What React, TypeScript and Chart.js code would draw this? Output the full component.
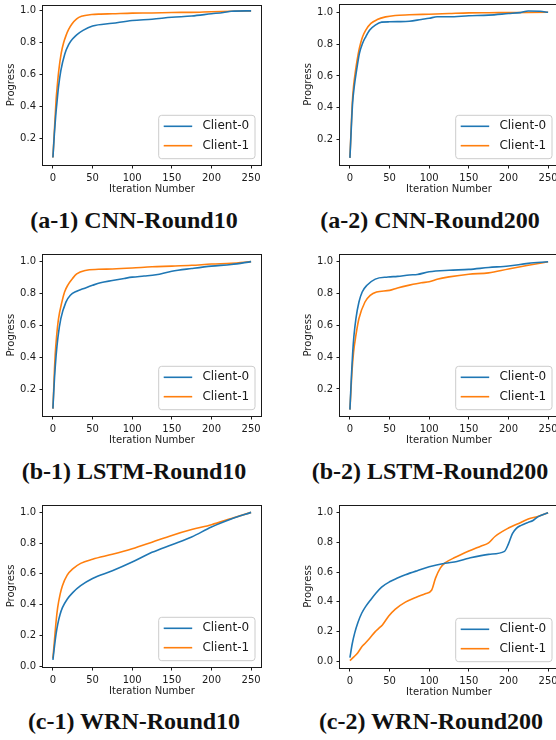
import React, { useEffect, useRef } from "react";
import { Chart, registerables } from "chart.js";

Chart.register(...registerables);

// ---------- data ----------
const CLIENTS = ["Client-0", "Client-1"];
const COLORS = ["#1f77b4", "#ff7f0e"];
const X_AXIS_LABEL = "Iteration Number";
const Y_AXIS_LABEL = "Progress";
const TITLES = [
  "(a-1) CNN-Round10",
  "(a-2) CNN-Round200",
  "(b-1) LSTM-Round10",
  "(b-2) LSTM-Round200",
  "(c-1) WRN-Round10",
  "(c-2) WRN-Round200",
];

// (a-1) CNN-Round10
const A1_C0_ITER = [0, 1, 2, 3.5, 5, 7, 10, 15, 20, 25, 30, 38, 50, 75, 100, 125, 150, 175, 200, 215, 225, 250];
const A1_C0_PROG = [0.08, 0.16, 0.24, 0.34, 0.42, 0.52, 0.625, 0.73, 0.79, 0.825, 0.85, 0.878, 0.905, 0.922, 0.94, 0.948, 0.96, 0.968, 0.982, 0.99, 0.998, 1.0];
const A1_C1_ITER = [0, 1, 2, 4, 5.5, 7.5, 10.5, 13.5, 16.5, 20, 24, 30, 36, 49, 60, 75, 100, 125, 150, 175, 200, 225, 250];
const A1_C1_PROG = [0.08, 0.17, 0.26, 0.44, 0.53, 0.63, 0.735, 0.8, 0.845, 0.885, 0.918, 0.95, 0.966, 0.977, 0.98, 0.982, 0.986, 0.987, 0.99, 0.991, 0.995, 0.998, 1.0];

// (a-2) CNN-Round200
const A2_C0_ITER = [0, 1, 2, 3.4, 5.5, 8.5, 12, 16, 20, 25, 32, 40, 50, 60, 75, 90, 100, 110, 125, 150, 175, 200, 215, 225, 240, 250];
const A2_C0_PROG = [0.085, 0.19, 0.3, 0.43, 0.534, 0.638, 0.742, 0.805, 0.846, 0.888, 0.919, 0.938, 0.94, 0.941, 0.944, 0.955, 0.962, 0.972, 0.972, 0.978, 0.982, 0.992, 0.998, 1.008, 1.006, 1.0];
const A2_C1_ITER = [0, 1, 2, 3, 4.6, 7.2, 10.6, 13.5, 16, 20, 26.5, 34.5, 45, 57, 75, 100, 125, 150, 175, 200, 225, 250];
const A2_C1_PROG = [0.085, 0.2, 0.32, 0.43, 0.534, 0.638, 0.742, 0.805, 0.846, 0.888, 0.93, 0.954, 0.971, 0.98, 0.984, 0.988, 0.992, 0.996, 0.997, 0.998, 0.999, 1.0];

// (b-1) LSTM-Round10
const B1_C0_ITER = [0, 1, 2, 4, 6.3, 10, 16.4, 22, 30, 38, 50, 60, 75, 90, 100, 115, 130, 150, 175, 200, 225, 250];
const B1_C0_PROG = [0.08, 0.18, 0.27, 0.41, 0.525, 0.643, 0.747, 0.79, 0.815, 0.83, 0.852, 0.868, 0.882, 0.895, 0.903, 0.91, 0.918, 0.94, 0.957, 0.972, 0.982, 1.0];
const B1_C1_ITER = [0, 1, 2, 2.9, 4.6, 7.1, 11.3, 14.7, 19, 24.8, 30, 40.8, 57.5, 75, 100, 125, 150, 175, 200, 225, 250];
const B1_C1_PROG = [0.08, 0.2, 0.33, 0.42, 0.53, 0.643, 0.747, 0.81, 0.855, 0.895, 0.923, 0.945, 0.952, 0.954, 0.96, 0.968, 0.972, 0.977, 0.985, 0.99, 1.0];

// (b-2) LSTM-Round200
const B2_C0_ITER = [0, 1, 2, 3.4, 5, 7.6, 11.4, 15.5, 21.5, 32, 48, 60, 75, 85, 100, 125, 150, 175, 200, 225, 250];
const B2_C0_PROG = [0.07, 0.18, 0.29, 0.42, 0.53, 0.643, 0.747, 0.81, 0.852, 0.891, 0.904, 0.908, 0.917, 0.92, 0.937, 0.947, 0.952, 0.964, 0.973, 0.99, 1.0];
const B2_C1_ITER = [0, 1, 2.5, 4.6, 7.6, 11.4, 19, 25.6, 33.6, 50, 60, 75, 90, 100, 110, 125, 150, 175, 200, 225, 250];
const B2_C1_PROG = [0.07, 0.16, 0.3, 0.43, 0.538, 0.643, 0.747, 0.789, 0.81, 0.82, 0.835, 0.853, 0.868, 0.874, 0.89, 0.905, 0.922, 0.93, 0.955, 0.978, 1.0];

// (c-1) WRN-Round10
const C1_C0_ITER = [0, 2, 4, 6, 9, 12, 18, 25, 35, 50, 75, 100, 125, 150, 175, 200, 225, 250];
const C1_C0_PROG = [0.04, 0.13, 0.21, 0.27, 0.335, 0.38, 0.435, 0.478, 0.523, 0.57, 0.62, 0.677, 0.74, 0.79, 0.84, 0.905, 0.957, 1.0];
const C1_C1_ITER = [0, 2, 4, 6, 9, 12, 18, 25, 35, 50, 75, 100, 125, 150, 175, 200, 225, 250];
const C1_C1_PROG = [0.05, 0.17, 0.29, 0.38, 0.465, 0.523, 0.592, 0.632, 0.668, 0.695, 0.727, 0.763, 0.806, 0.85, 0.888, 0.92, 0.96, 1.0];

// (c-2) WRN-Round200
const C2_C0_ITER = [0, 3, 6, 10, 15, 20, 27, 33, 40, 50, 60, 70, 85, 100, 120, 135, 150, 175, 195, 200, 205, 210, 216, 225, 231, 237, 250];
const C2_C0_PROG = [0.025, 0.12, 0.19, 0.26, 0.325, 0.37, 0.42, 0.46, 0.5, 0.535, 0.56, 0.582, 0.61, 0.636, 0.66, 0.672, 0.694, 0.72, 0.74, 0.79, 0.86, 0.895, 0.915, 0.935, 0.948, 0.972, 1.0];
const C2_C1_ITER = [0, 5, 10, 15, 19, 25, 32, 36, 41, 49, 57, 70, 83, 95, 103, 108, 114, 120, 133, 150, 165, 175, 183, 200, 212, 225, 237, 250];
const C2_C1_PROG = [0.005, 0.03, 0.058, 0.098, 0.12, 0.155, 0.2, 0.22, 0.245, 0.305, 0.35, 0.398, 0.43, 0.455, 0.478, 0.56, 0.627, 0.662, 0.7, 0.742, 0.775, 0.797, 0.84, 0.897, 0.926, 0.957, 0.975, 1.0];

// y-axis view limits per panel
const Y_MIN = [0.033, 0.04, 0.034, 0.03, -0.006, -0.045];
const Y_MAX = [1.037, 1.052, 1.046, 1.047, 1.048, 1.052];
const X_MIN = -12.5;
const X_MAX = 262.5;

const SERIES = [
  [[A1_C0_ITER, A1_C0_PROG], [A1_C1_ITER, A1_C1_PROG]],
  [[A2_C0_ITER, A2_C0_PROG], [A2_C1_ITER, A2_C1_PROG]],
  [[B1_C0_ITER, B1_C0_PROG], [B1_C1_ITER, B1_C1_PROG]],
  [[B2_C0_ITER, B2_C0_PROG], [B2_C1_ITER, B2_C1_PROG]],
  [[C1_C0_ITER, C1_C0_PROG], [C1_C1_ITER, C1_C1_PROG]],
  [[C2_C0_ITER, C2_C0_PROG], [C2_C1_ITER, C2_C1_PROG]],
];

// ---------- layout ----------
const CANVAS_W = 278;
const Y_AXIS_W = 43;
const AX_RIGHT = 261;
const X_AXIS_H = 35;
const LAYOUT = [
  { left: 0, top: 0, axTop: 5, axBottom: 165, cx: 134, cy: 220 },
  { left: 297, top: 0, axTop: 4, axBottom: 165, cx: 430, cy: 220 },
  { left: 0, top: 250, axTop: 4.3, axBottom: 166, cx: 134, cy: 470.5 },
  { left: 297, top: 250, axTop: 4.3, axBottom: 166, cx: 430, cy: 470.5 },
  { left: 0, top: 500, axTop: 5, axBottom: 167, cx: 134, cy: 720.5 },
  { left: 297, top: 500, axTop: 5, axBottom: 168, cx: 431, cy: 720.5 },
];

const FONT = "DejaVu Sans";
const INK = "#1a1a1a";

const framePlugin = {
  id: "mplFrame",
  afterDatasetsDraw(chart: any) {
    const { ctx, chartArea: a } = chart;
    ctx.save();
    ctx.strokeStyle = INK;
    ctx.lineWidth = 1;
    const l = Math.round(a.left) - 0.5;
    const t = Math.round(a.top) + 0.5;
    const r = Math.round(a.right) + 0.5;
    const b = Math.round(a.bottom) + 0.5;
    ctx.strokeRect(l, t, r - l, b - t);
    ctx.restore();
  },
};

const legendPlugin = {
  id: "mplLegend",
  afterDraw(chart: any) {
    const { ctx, chartArea: a } = chart;
    const bx = a.right - 102.3;
    const by = a.bottom - 49.7;
    const bw = 96.3;
    const bh = 43.4;
    ctx.save();
    ctx.beginPath();
    ctx.roundRect(bx, by, bw, bh, 3);
    ctx.fillStyle = "rgba(255,255,255,0.8)";
    ctx.fill();
    ctx.strokeStyle = "#cccccc";
    ctx.lineWidth = 1;
    ctx.stroke();
    const rows = [a.bottom - 38.7, a.bottom - 19.3];
    chart.data.datasets.forEach((ds: any, i: number) => {
      const y = rows[i];
      ctx.beginPath();
      ctx.moveTo(bx + 5, y);
      ctx.lineTo(bx + 33.5, y);
      ctx.strokeStyle = ds.borderColor;
      ctx.lineWidth = 1.6;
      ctx.stroke();
      ctx.fillStyle = INK;
      ctx.font = `12px "${FONT}"`;
      ctx.textAlign = "left";
      ctx.textBaseline = "middle";
      ctx.fillText(ds.label, bx + 43.7, y);
    });
    ctx.restore();
  },
};

function Panel({ index }: { index: number }) {
  const ref = useRef<HTMLCanvasElement | null>(null);
  const lay = LAYOUT[index];
  const h = lay.axBottom + X_AXIS_H;

  useEffect(() => {
    const canvas = ref.current;
    if (!canvas) return;
    const tickFont = { family: FONT, size: 10 };
    const chart = new Chart(canvas, {
      type: "line",
      data: {
        datasets: SERIES[index].map((s, i) => ({
          label: CLIENTS[i],
          data: s[0].map((x: number, j: number) => ({ x, y: s[1][j] })),
          borderColor: COLORS[i],
          backgroundColor: COLORS[i],
          borderWidth: 1.6,
          pointRadius: 0,
          fill: false,
          cubicInterpolationMode: "monotone" as const,
        })),
      },
      options: {
        animation: false,
        responsive: false,
        events: [],
        layout: {
          padding: { left: 0, top: lay.axTop, right: CANVAS_W - AX_RIGHT, bottom: 0 },
        },
        plugins: {
          legend: { display: false },
          tooltip: { enabled: false },
          title: { display: false },
        },
        scales: {
          x: {
            type: "linear",
            min: X_MIN,
            max: X_MAX,
            afterFit: (s: any) => {
              s.height = X_AXIS_H;
              s.paddingLeft = 0;
              s.paddingRight = 0;
              s.paddingTop = 0;
              s.paddingBottom = 0;
            },
            ticks: {
              stepSize: 50,
              includeBounds: false,
              autoSkip: false,
              maxRotation: 0,
              padding: 3.5,
              color: INK,
              font: tickFont,
              callback: (v: any) => String(v),
            },
            grid: {
              display: true,
              drawOnChartArea: false,
              drawTicks: true,
              tickLength: 3.5,
              tickColor: INK,
              tickWidth: 1,
            },
            border: { display: false },
            title: {
              display: true,
              text: X_AXIS_LABEL,
              color: INK,
              font: tickFont,
              padding: { top: 0, bottom: 4.5 },
            },
          },
          y: {
            type: "linear",
            min: Y_MIN[index],
            max: Y_MAX[index],
            afterFit: (s: any) => {
              s.width = Y_AXIS_W;
              s.paddingLeft = 0;
              s.paddingRight = 0;
              s.paddingTop = 0;
              s.paddingBottom = 0;
            },
            ticks: {
              stepSize: 0.2,
              includeBounds: false,
              autoSkip: false,
              padding: 3.5,
              color: INK,
              font: tickFont,
              callback: (v: any) => Number(v).toFixed(1),
            },
            grid: {
              display: true,
              drawOnChartArea: false,
              drawTicks: true,
              tickLength: 3.5,
              tickColor: INK,
              tickWidth: 1,
            },
            border: { display: false },
            title: {
              display: true,
              text: Y_AXIS_LABEL,
              color: INK,
              font: tickFont,
              padding: { top: 5.5, bottom: 0 },
            },
          },
        },
      },
      plugins: [framePlugin, legendPlugin],
    } as any);
    return () => chart.destroy();
  }, [index]);

  return (
    <canvas
      ref={ref}
      width={CANVAS_W}
      height={h}
      style={{
        position: "absolute",
        left: lay.left,
        top: lay.top,
        width: CANVAS_W,
        height: h,
        display: "block",
      }}
    />
  );
}

export default function App() {
  return (
    <div
      style={{
        position: "absolute",
        left: 0,
        top: 0,
        width: 556,
        height: 740,
        overflow: "hidden",
        background: "#ffffff",
      }}
    >
      {LAYOUT.map((_, i) => (
        <Panel key={i} index={i} />
      ))}
      {LAYOUT.map((lay, i) => (
        <div
          key={"t" + i}
          style={{
            position: "absolute",
            left: lay.cx - 150,
            width: 300,
            top: lay.cy - 12,
            height: 24,
            lineHeight: "24px",
            textAlign: "center",
            whiteSpace: "nowrap",
            fontFamily: '"Liberation Serif", serif',
            fontWeight: 700,
            fontSize: 24,
            color: "#111",
          }}
        >
          {TITLES[i]}
        </div>
      ))}
    </div>
  );
}
